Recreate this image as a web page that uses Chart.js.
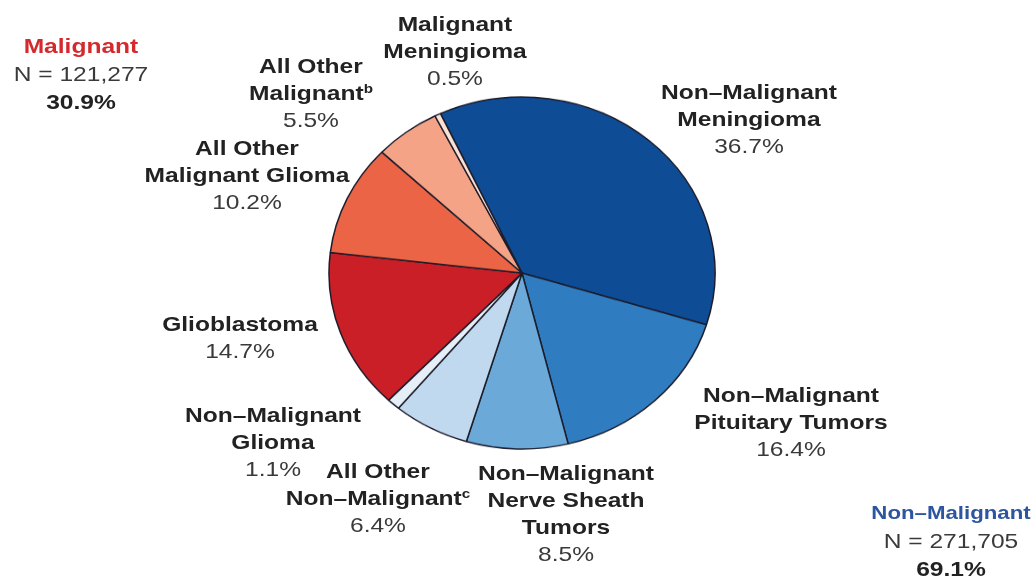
<!DOCTYPE html>
<html>
<head>
<meta charset="utf-8">
<script src="https://cdn.jsdelivr.net/npm/chart.js@4.4.1/dist/chart.umd.min.js"></script>
<style>
  html, body { margin: 0; padding: 0; background: #fff; width: 1034px; height: 580px; overflow: hidden; }
  #pieWrap { position: absolute; left: 326.5px; top: 78px; width: 390px; height: 390px;
             transform: scaleY(0.912); transform-origin: 50% 50%; }
  #labels { position: absolute; left: 0; top: 0; width: 884px; height: 580px;
            transform: scaleX(1.17); transform-origin: 0 0;
            font-family: "Liberation Sans", Arial, Helvetica, sans-serif; }
  .lab { position: absolute; transform: translateX(-50%); text-align: center; white-space: nowrap;
         font-size: 21px; line-height: 27px; }
  .name { font-weight: bold; color: #222; }
  .pct { color: #3a3a3a; }
  .sup { font-size: 13px; line-height: 0; position: relative; top: -7px; font-weight: bold; }
</style>
</head>
<body>
<div id="pieWrap"><canvas id="pie" width="390" height="390"></canvas></div>
<div id="labels"></div>
<script>
// ---- data ----
const categories = [
  "Non\u2013Malignant Meningioma",
  "Non\u2013Malignant Pituitary Tumors",
  "Non\u2013Malignant Nerve Sheath Tumors",
  "All Other Non\u2013Malignant",
  "Non\u2013Malignant Glioma",
  "Glioblastoma",
  "All Other Malignant Glioma",
  "All Other Malignant",
  "Malignant Meningioma"
];
const percentValues = [36.7, 16.4, 8.5, 6.4, 1.1, 14.7, 10.2, 5.5, 0.5];
// displayed label lines for each category (text only)
const labelLines = [
  ["Non\u2013Malignant", "Meningioma"],
  ["Non\u2013Malignant", "Pituitary Tumors"],
  ["Non\u2013Malignant", "Nerve Sheath", "Tumors"],
  ["All Other", "Non\u2013Malignant"],
  ["Non\u2013Malignant", "Glioma"],
  ["Glioblastoma"],
  ["All Other", "Malignant Glioma"],
  ["All Other", "Malignant"],
  ["Malignant", "Meningioma"]
];
const footnoteMarks = ["", "", "", "c", "", "", "", "b", ""];
const groupNames = ["Malignant", "Non\u2013Malignant"];
const groupCounts = ["121,277", "271,705"];
const groupPercents = [30.9, 69.1];

// ---- styling / layout (not data) ----
const sliceColors = ["#0f4c96", "#2f7cc0", "#6aa9d8", "#c0d9ee", "#e6eef7",
                     "#cb1f28", "#ec6446", "#f4a386", "#fbe2d6"];
// centre x, centre-y of first line (page pixels)
const labelPos = [
  [749, 91], [791, 394], [566, 472], [378, 470], [273, 414],
  [240, 323], [247, 147], [311, 65], [455, 23]
];
const groupPos = [[81, 45], [951, 512]];
const groupColors = ["#d42a2e", "#2d55a0"];
const groupTitleSize = [21, 19];
const SX = 1.17;

new Chart(document.getElementById("pie"), {
  type: "pie",
  data: {
    labels: categories,
    datasets: [{
      data: percentValues,
      backgroundColor: sliceColors,
      borderColor: "#1c1c2a",
      borderWidth: 1.5
    }]
  },
  options: {
    responsive: false,
    animation: false,
    devicePixelRatio: 1,
    rotation: -25,
    radius: 193,
    layout: { padding: 0 },
    plugins: { legend: { display: false }, tooltip: { enabled: false } }
  }
});

const host = document.getElementById("labels");
function addLabel(x, y, html) {
  const d = document.createElement("div");
  d.className = "lab";
  d.style.left = (x / SX) + "px";
  d.style.top = (y - 13.5) + "px";
  d.innerHTML = html;
  host.appendChild(d);
}
categories.forEach((c, i) => {
  const lines = labelLines[i].map((t, j, arr) => {
    let s = t;
    if (j === arr.length - 1 && footnoteMarks[i]) s += '<span class="sup">' + footnoteMarks[i] + '</span>';
    return '<div class="name">' + s + '</div>';
  });
  lines.push('<div class="pct">' + percentValues[i].toFixed(1) + '%</div>');
  addLabel(labelPos[i][0], labelPos[i][1], lines.join(""));
});
groupNames.forEach((g, i) => {
  addLabel(groupPos[i][0], groupPos[i][1],
    '<div style="font-weight:bold;color:' + groupColors[i] + ';line-height:28px;font-size:' + groupTitleSize[i] + 'px">' + g + '</div>' +
    '<div class="pct" style="line-height:28px">N = ' + groupCounts[i] + '</div>' +
    '<div class="name" style="line-height:28px">' + groupPercents[i].toFixed(1) + '%</div>');
});
</script>
</body>
</html>
